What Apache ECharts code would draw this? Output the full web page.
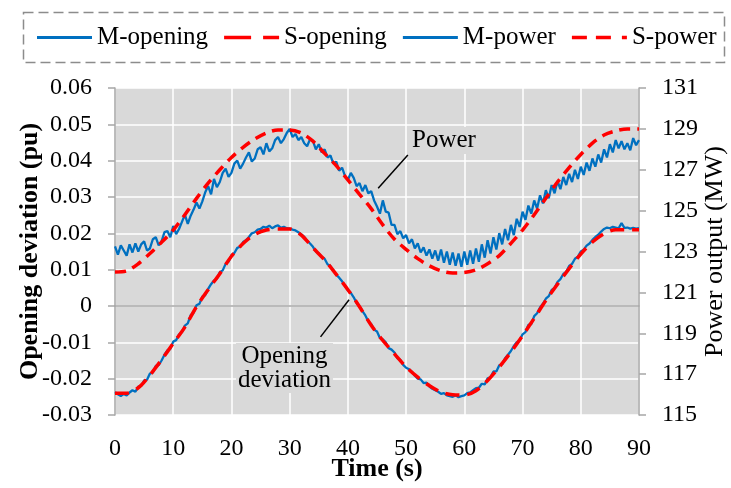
<!DOCTYPE html>
<html><head><meta charset="utf-8">
<script src="https://cdn.jsdelivr.net/npm/echarts@6/dist/echarts.min.js"></script>
<style>html,body{margin:0;padding:0;background:#fff}#c{width:731px;height:488px}</style>
</head><body><div id="c"></div>
<script>
// ---- data ----
// S series sampled every 2 s
var tS = [0,2,4,6,8,10,12,14,16,18,20,22,24,26,28,30,32,34,36,38,40,42,44,46,48,50,52,54,56,58,60,62,64,66,68,70,72,74,76,78,80,82,84,86,88,90];
var sOpening = [-0.024,-0.024,-0.0225,-0.019,-0.0148,-0.0103,-0.0058,-0.0002,0.0045,0.0089,0.0137,0.0172,0.0197,0.0209,0.0212,0.0212,0.0195,0.016,0.0127,0.0087,0.0045,-0.0002,-0.0053,-0.0095,-0.0132,-0.0168,-0.0196,-0.0219,-0.0237,-0.0244,-0.0245,-0.0233,-0.0205,-0.0168,-0.0127,-0.0082,-0.0034,0.0015,0.006,0.0103,0.0143,0.0176,0.0199,0.021,0.021,0.021];
var sPower = [122.0,122.05,122.4,122.9,123.45,124.05,124.8,125.6,126.35,127.0,127.6,128.1,128.5,128.8,128.95,128.95,128.8,128.4,127.8,127.2,126.5,125.8,125.1,124.3,123.6,123.1,122.65,122.3,122.05,121.95,121.97,122.1,122.4,122.8,123.4,124.05,124.8,125.6,126.4,127.1,127.75,128.3,128.7,128.9,129.0,129.0];
// M series sampled every 0.5 s (0 .. 90)
var mOpening = [-0.0237,-0.0243,-0.0248,-0.0242,-0.0246,-0.0238,-0.0232,-0.0236,-0.0222,-0.0220,-0.0205,-0.0203,-0.0186,-0.0183,-0.0165,-0.0163,-0.0150,-0.0134,-0.0122,-0.0118,-0.0098,-0.0094,-0.0078,-0.0072,-0.0054,-0.0048,-0.0025,-0.0018,0.0002,0.0006,0.0026,0.0030,0.0047,0.0060,0.0070,0.0076,0.0093,0.0098,0.0116,0.0122,0.0140,0.0146,0.0160,0.0163,0.0176,0.0181,0.0190,0.0200,0.0203,0.0210,0.0212,0.0218,0.0216,0.0221,0.0214,0.0219,0.0222,0.0215,0.0218,0.0214,0.0213,0.0210,0.0208,0.0203,0.0197,0.0190,0.0180,0.0172,0.0163,0.0150,0.0145,0.0135,0.0130,0.0115,0.0110,0.0098,0.0086,0.0078,0.0068,0.0055,0.0043,0.0036,0.0024,0.0008,-0.0001,-0.0014,-0.0026,-0.0042,-0.0050,-0.0065,-0.0070,-0.0088,-0.0092,-0.0100,-0.0116,-0.0120,-0.0128,-0.0144,-0.0148,-0.0162,-0.0170,-0.0174,-0.0181,-0.0192,-0.0200,-0.0202,-0.0212,-0.0211,-0.0222,-0.0228,-0.0232,-0.0236,-0.0242,-0.0240,-0.0246,-0.0248,-0.0250,-0.0246,-0.0251,-0.0248,-0.0246,-0.0240,-0.0238,-0.0232,-0.0226,-0.0225,-0.0214,-0.0216,-0.0199,-0.0196,-0.0180,-0.0180,-0.0163,-0.0160,-0.0144,-0.0134,-0.0124,-0.0110,-0.0100,-0.0094,-0.0078,-0.0072,-0.0052,-0.0050,-0.0028,-0.0020,-0.0004,0.0006,0.0020,0.0027,0.0044,0.0050,0.0066,0.0074,0.0088,0.0094,0.0110,0.0116,0.0130,0.0136,0.0150,0.0155,0.0166,0.0172,0.0182,0.0190,0.0196,0.0205,0.0212,0.0216,0.0214,0.0218,0.0216,0.0214,0.0228,0.0215,0.0216,0.0213,0.0215,0.0213,0.0214];
var mPower = [123.25,122.85,123.3,123.05,122.8,123.35,122.95,123.4,123.0,123.35,123.5,123.05,123.15,123.6,123.7,123.3,123.5,123.95,124.0,123.7,124.25,123.85,124.1,124.45,124.8,124.35,124.75,125.05,125.4,125.1,125.45,125.9,126.2,125.8,126.55,126.15,126.4,126.85,127.05,126.65,126.85,127.3,127.45,127.05,127.3,127.6,127.85,127.4,127.55,128.0,128.1,127.75,128.3,127.9,128.05,128.45,128.6,128.3,128.5,128.8,129.0,128.6,128.75,128.45,128.6,128.3,128.15,128.5,128.4,128.0,128.25,127.85,128.0,127.6,127.7,127.3,127.4,126.95,127.1,126.7,126.5,126.85,126.6,126.2,126.35,125.95,126.25,125.85,125.95,125.5,125.2,124.85,125.5,124.95,124.9,124.3,124.3,123.85,124.0,123.65,123.8,123.4,123.6,123.15,123.4,122.95,123.2,122.8,123.1,122.65,123.05,122.55,123.1,122.45,123.0,122.35,122.95,122.3,122.9,122.25,123.0,122.35,123.05,122.4,123.15,122.5,123.35,122.7,123.55,122.9,123.7,123.1,123.9,123.35,124.1,123.55,124.3,123.8,124.6,124.2,124.95,124.55,125.25,124.85,125.5,125.1,125.75,125.35,126.0,125.6,126.25,125.85,126.45,126.05,126.65,126.25,126.8,126.4,127.0,126.55,127.15,126.75,127.35,126.95,127.55,127.15,127.75,127.35,128.0,127.6,128.25,127.85,128.45,128.05,128.4,128.0,128.3,127.95,128.55,128.2,128.45];
var xTicks = [0,10,20,30,40,50,60,70,80,90];
var leftTicks = [-0.03,-0.02,-0.01,0,0.01,0.02,0.03,0.04,0.05,0.06];
var rightTicks = [115,117,119,121,123,125,127,129,131];
var names = ['M-opening','S-opening','M-power','S-power'];

// ---- build pairs ----
function pairs(ts, vs){ var out=[]; for(var i=0;i<vs.length;i++){ out.push([ts[i], vs[i]]); } return out; }
var tHalf = []; for (var i=0;i<mPower.length;i++){ tHalf.push(i/2); }

var FONT = 'Liberation Serif';
var chart = echarts.init(document.getElementById('c'), null, {renderer:'canvas'});
var arrowStyle = {color:'#000', width:1.5, type:'solid'};
var iconSolid = 'path://M0,0h55v3h-55z';
var iconDashA = 'path://M0,0h27v3.5h-27z M39,0h16v3.5h-16z';
var iconDashB = 'path://M0,0h15v3.5h-15z M24,0h15v3.5h-15z M50,0h5v3.5h-5z';
chart.setOption({
  animation:false,
  textStyle:{fontFamily:FONT},
  grid:{left:115, right:92, top:88, bottom:73, show:true, backgroundColor:'#d9d9d9', borderWidth:0,
        containLabel:false, outerBoundsMode:'none'},
  legend:{
    data:[{name:names[0], icon:iconSolid},{name:names[1], icon:iconDashA},{name:names[2], icon:iconSolid},{name:names[3], icon:iconDashB}],
    left:32, top:20, itemWidth:55, itemHeight:3.5, itemGap:16,
    textStyle:{fontFamily:FONT, fontSize:25, color:'#000'}
  },
  graphic:[
    {type:'rect', left:21, top:10, shape:{width:701, height:50}, style:{fill:'none', stroke:'#8c8c8c', lineWidth:1.5, lineDash:[10,5]}, silent:true},
    {type:'text', left:410, top:127, z:100, style:{text:'Power', font:'25px "Liberation Serif"', fill:'#000', backgroundColor:'#d9d9d9', padding:[1,2]}, silent:true},
    {type:'text', left:236, top:343, z:100, style:{text:'Opening\ndeviation', font:'25px "Liberation Serif"', fill:'#000', textAlign:'center', lineHeight:24, backgroundColor:'#d9d9d9', padding:[1,2]}, silent:true}
  ],
  xAxis:{
    type:'value', min:xTicks[0], max:xTicks[xTicks.length-1], interval:10,
    name:'Time (s)', nameLocation:'middle', nameGap:41, nameMoveOverlap:false,
    nameTextStyle:{fontFamily:FONT, fontSize:26, fontWeight:'bold', color:'#000'},
    axisLine:{show:true, lineStyle:{color:'#a6a6a6', width:1.5}},
    axisTick:{show:false},
    axisLabel:{fontFamily:FONT, fontSize:24, color:'#000', margin:22},
    splitLine:{show:true, lineStyle:{color:'#ffffff', width:1.5}}
  },
  yAxis:[{
    type:'value', min:leftTicks[0], max:leftTicks[leftTicks.length-1], interval:0.01,
    name:'Opening deviation (pu)', nameLocation:'middle', nameGap:72, nameRotate:90, nameMoveOverlap:false,
    nameTextStyle:{fontFamily:FONT, fontSize:26, fontWeight:'bold', color:'#000'},
    axisLine:{show:true, lineStyle:{color:'#a6a6a6', width:1.5}},
    axisTick:{show:true, inside:false, length:7, lineStyle:{color:'#a6a6a6', width:1.5}},
    axisLabel:{fontFamily:FONT, fontSize:24, color:'#000', margin:23,
      formatter:function(v){ return String(Math.round(v*100)/100); }},
    splitLine:{show:true, lineStyle:{color:'#ffffff', width:1.5}}
  },{
    type:'value', min:rightTicks[0], max:rightTicks[rightTicks.length-1], interval:2,
    name:'Power output (MW)', nameLocation:'middle', nameGap:63, nameRotate:90, nameMoveOverlap:false,
    nameTextStyle:{fontFamily:FONT, fontSize:26, color:'#000'},
    axisLine:{show:true, lineStyle:{color:'#a6a6a6', width:1.5}},
    axisTick:{show:true, inside:false, length:7, lineStyle:{color:'#a6a6a6', width:1.5}},
    axisLabel:{fontFamily:FONT, fontSize:24, color:'#000', margin:23},
    splitLine:{show:false}
  }],
  series:[
    {name:names[0], type:'line', yAxisIndex:0, showSymbol:false, symbol:'none',
     data:pairs(tHalf, mOpening), lineStyle:{color:'#0070c0', width:2.3}, itemStyle:{color:'#0070c0'},
     markLine:{silent:true, symbol:['none','arrow'], symbolSize:[0,10], label:{show:false}, lineStyle:arrowStyle,
       data:[[{coord:[35.3,-0.0085]},{coord:[40.2,0.0017]}]]}},
    {name:names[1], type:'line', yAxisIndex:0, showSymbol:false, symbol:'none', smooth:0.3,
     data:pairs(tS, sOpening), lineStyle:{color:'#ff0000', width:3.5, type:[14,8]}, itemStyle:{color:'#ff0000'}},
    {name:names[2], type:'line', yAxisIndex:1, showSymbol:false, symbol:'none',
     data:pairs(tHalf, mPower), lineStyle:{color:'#0070c0', width:2.3}, itemStyle:{color:'#0070c0'},
     markLine:{silent:true, symbol:['none','arrow'], symbolSize:[0,10], label:{show:false}, lineStyle:arrowStyle,
       data:[[{coord:[50.3,127.72]},{coord:[45.2,126.1]}]]}},
    {name:names[3], type:'line', yAxisIndex:1, showSymbol:false, symbol:'none', smooth:0.3,
     data:pairs(tS, sPower), lineStyle:{color:'#ff0000', width:3.5, type:[11,7]}, itemStyle:{color:'#ff0000'}}
  ]
});
</script></body></html>
